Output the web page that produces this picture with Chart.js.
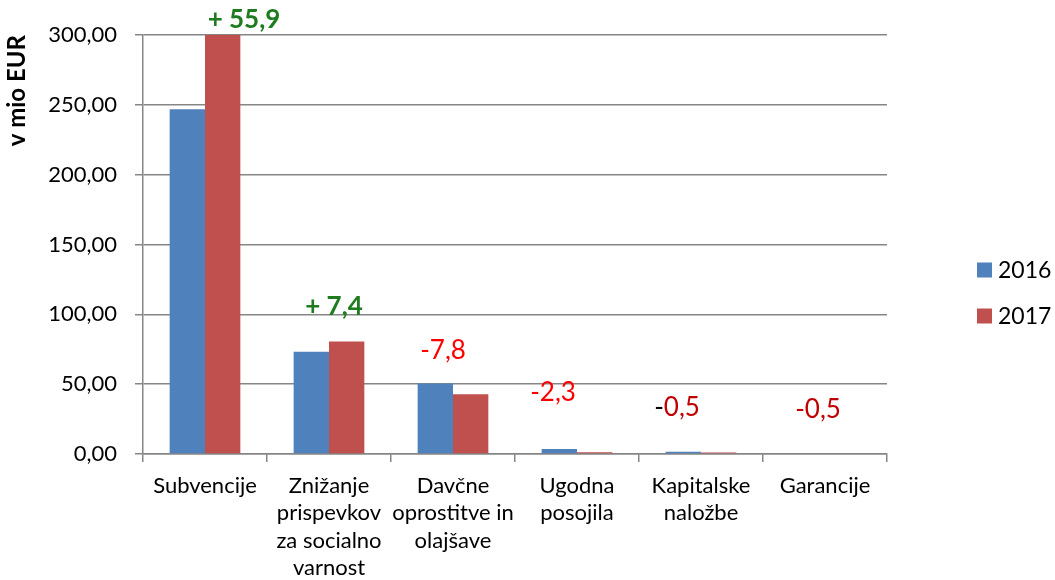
<!DOCTYPE html>
<html>
<head>
<meta charset="utf-8">
<script src="https://cdn.jsdelivr.net/npm/chart.js@4.4.1/dist/chart.umd.min.js"></script>
<style>
  body { margin: 0; background: #fff; }
  #wrap { width: 1055px; height: 580px; }
</style>
</head>
<body>
<div id="wrap"><canvas id="chart" width="1055" height="580"></canvas></div>
<script>
// categories (multi-line labels as in the original)
const categories = [
  ['Subvencije'],
  ['Znižanje', 'prispevkov', 'za socialno', 'varnost'],
  ['Davčne', 'oprostitve in', 'olajšave'],
  ['Ugodna', 'posojila'],
  ['Kapitalske', 'naložbe'],
  ['Garancije']
];
const years = ['2016', '2017'];
const values2016 = [246.8, 73.2, 50.5, 3.5, 1.6, 0.5];
const values2017 = [302.7, 80.6, 42.7, 1.2, 1.1, 0.0];
// change 2017 vs 2016, written as in the picture
const changes = ['+ 55,9', '+ 7,4', '-7,8', '-2,3', '-0,5', '-0,5'];
const yTicks = [0, 50, 100, 150, 200, 250, 300];

const FONT = 'Lato, "Liberation Sans", sans-serif';
const GRID = '#868686';
const BLUE = '#4F81BD';
const RED = '#C0504D';

// look of each change label (offsets from the category centre / bar top)
const changeStyle = [
  { dx: 39, up: 15, bold: true, parts: [['#1E7B1E']] },
  { dx: 5, up: 35, bold: true, parts: [['#1E7B1E']] },
  { dx: -10, up: 33, bold: false, parts: [['#FF0000']] },
  { dx: -24, up: 57, bold: false, parts: [['#FF0000']] },
  { dx: -24, up: 44, bold: false, parts: [['#000000', 1], ['#C00000']] },
  { dx: -7, up: 44, bold: false, parts: [['#C00000']] }
];

const changeLabels = {
  id: 'changeLabels',
  afterDatasetsDraw(chart) {
    const { ctx, chartArea, scales } = chart;
    ctx.save();
    ctx.textBaseline = 'middle';
    changes.forEach((txt, i) => {
      const st = changeStyle[i];
      ctx.font = (st.bold ? 'bold ' : '') + '26px ' + FONT;
      const top = Math.max(chartArea.top,
        scales.y.getPixelForValue(Math.max(values2016[i], values2017[i])));
      const cx = scales.x.getPixelForValue(i) + st.dx;
      const y = top - st.up;
      // split text into coloured pieces
      let pieces = [];
      let rest = txt;
      st.parts.forEach(p => {
        const n = p[1] || rest.length;
        pieces.push([rest.slice(0, n), p[0]]);
        rest = rest.slice(n);
      });
      const w = ctx.measureText(txt).width;
      let x = cx - w / 2;
      ctx.textAlign = 'left';
      pieces.forEach(([t, c]) => {
        ctx.fillStyle = c;
        ctx.fillText(t, x, y);
        x += ctx.measureText(t).width;
      });
    });

    // legend on the right
    ctx.font = '23px ' + FONT;
    ctx.textAlign = 'left';
    [BLUE, RED].forEach((c, i) => {
      const ly = 270 + i * 46;
      const lx = chartArea.right + 90;
      ctx.fillStyle = c;
      ctx.fillRect(lx, ly - 7.5, 15, 15);
      ctx.fillStyle = '#000';
      ctx.fillText(years[i], lx + 21, ly + 1);
    });
    ctx.restore();
  }
};

new Chart(document.getElementById('chart'), {
  type: 'bar',
  data: {
    labels: categories,
    datasets: [
      { label: years[0], data: values2016, backgroundColor: BLUE },
      { label: years[1], data: values2017, backgroundColor: RED }
    ]
  },
  options: {
    responsive: false,
    animation: false,
    layout: { padding: { top: 35, right: 168, left: 0, bottom: 0 } },
    datasets: { bar: { categoryPercentage: 0.57, barPercentage: 1.0 } },
    plugins: {
      legend: { display: false },
      tooltip: { enabled: false }
    },
    scales: {
      x: {
        afterFit: s => { s.height = 126; },
        grid: { drawOnChartArea: false, color: GRID, lineWidth: 1.5, tickLength: 8, offset: true },
        border: { color: GRID, width: 1.5 },
        ticks: {
          color: '#000',
          font: { family: FONT, size: 22, lineHeight: 1.25 },
          padding: 10,
          maxRotation: 0,
          autoSkip: false
        }
      },
      y: {
        min: 0,
        max: 300,
        afterFit: s => { s.width = 143; },
        afterBuildTicks: s => { s.ticks = yTicks.map(v => ({ value: v })); },
        grid: { color: GRID, lineWidth: 1.5, tickLength: 8 },
        border: { color: GRID, width: 1.5 },
        ticks: {
          color: '#000',
          padding: 18,
          font: { family: FONT, size: 22 },
          callback: v => v.toFixed(2).replace('.', ',')
        },
        title: {
          display: true,
          text: 'v mio EUR',
          align: 'end',
          color: '#000',
          font: { family: FONT, size: 24, weight: 'bold' },
          padding: { top: 3, bottom: 0 }
        }
      }
    }
  },
  plugins: [changeLabels]
});
</script>
</body>
</html>
